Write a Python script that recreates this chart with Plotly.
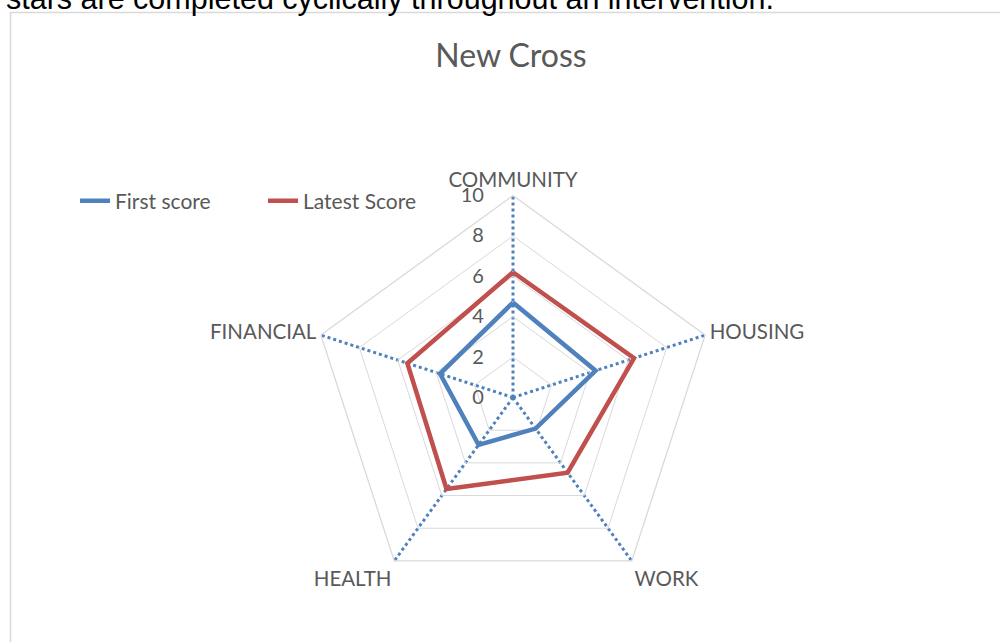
import plotly.graph_objects as go

categories = ["COMMUNITY", "HOUSING", "WORK", "HEALTH", "FINANCIAL"]
first_score = [4.7, 4.3, 1.9, 2.9, 3.8]
latest_score = [6.2, 6.3, 4.6, 5.6, 5.5]
radial_ticks = [0, 2, 4, 6, 8, 10]

TXT = "#595959"
FONT = "Lato"

fig = go.Figure()
fig.add_trace(go.Scatterpolar(
    r=first_score + first_score[:1], theta=categories + categories[:1],
    mode="lines", name="First score",
    line=dict(color="#4F81BD", width=4.5)))
fig.add_trace(go.Scatterpolar(
    r=latest_score + latest_score[:1], theta=categories + categories[:1],
    mode="lines", name="Latest Score",
    line=dict(color="#C0504D", width=4.5)))

W, H = 1000, 642
cx, cy, R = 513, 397.5, 202
PAD = "\u00a0" * 5
fig.update_layout(
    width=W, height=H,
    margin=dict(l=0, r=0, t=0, b=0),
    paper_bgcolor="white", plot_bgcolor="white",
    font=dict(family=FONT, color=TXT, size=15),
    title=dict(text="New Cross", x=0.511, xanchor="center", y=1 - 56 / H, yanchor="middle",
               font=dict(family=FONT, size=32, color=TXT)),
    polar=dict(
        domain=dict(x=[(cx - R) / W, (cx + R) / W], y=[(H - cy - R) / H, (H - cy + R) / H]),
        gridshape="linear",
        bgcolor="white",
        radialaxis=dict(
            range=[0, 10], tickvals=radial_ticks, ticktext=[str(v) + PAD for v in radial_ticks],
            angle=90, tickangle=90, side="counterclockwise",
            showline=False, ticks="", gridcolor="#D9D9D9", gridwidth=1.3,
            tickfont=dict(family=FONT, size=20, color=TXT)),
        angularaxis=dict(
            direction="clockwise", rotation=90,
            showline=True, linecolor="#D9D9D9", linewidth=1.3,
            gridcolor="#4F81BD", gridwidth=2.5, griddash="dot",
            ticks="", tickfont=dict(family=FONT, size=20.5, color=TXT)),
    ),
    showlegend=True,
    legend=dict(orientation="h", x=75 / W, xanchor="left", y=1 - 201 / H, yanchor="middle",
                font=dict(family=FONT, size=21, color=TXT), entrywidth=143,
                bgcolor="rgba(0,0,0,0)"),
    shapes=[dict(type="rect", xref="paper", yref="paper",
                 x0=10.5 / W, x1=1.2, y0=-0.2, y1=1 - 12.5 / H,
                 line=dict(color="#D9D9D9", width=1.5), fillcolor="rgba(0,0,0,0)", layer="below")],
    annotations=[dict(text="stars are completed cyclically throughout an intervention.",
                      xref="paper", yref="paper", x=776 / W, xanchor="right",
                      y=1 + 1.7 / H, yanchor="middle", showarrow=False,
                      font=dict(family="Liberation Sans", size=30.5, color="black"))],
)

fig.write_html("out.html")
